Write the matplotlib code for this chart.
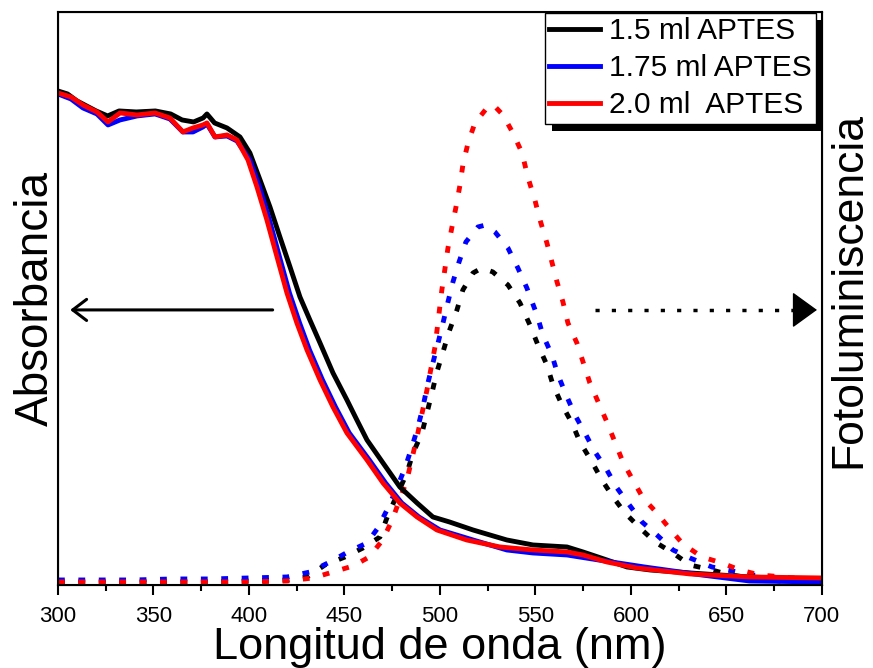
import matplotlib
matplotlib.use("Agg")
import matplotlib.pyplot as plt
from matplotlib.patches import Rectangle
from matplotlib.ticker import MultipleLocator

plt.rcParams["font.family"] = ["Liberation Sans", "DejaVu Sans"]

LABELS = ["1.5 ml APTES", "1.75 ml APTES", "2.0 ml  APTES"]
COLORS = ["black", "blue", "red"]

# absorbance (arbitrary units)
abs_15_x = [300, 305, 310, 315, 320, 326, 332, 341, 351, 359, 365, 371, 376, 378, 382, 388.5,
            395.3, 400.5, 405.8, 411, 416.2, 421.5, 426.7, 431.9, 437.2, 444, 451.3, 456.5,
            461.8, 470.2, 479, 488, 496.3, 505, 517.3, 535, 548.7, 566.5, 574.9, 587.4, 597.9,
            610, 631, 662, 700]
abs_15_y = [494, 491, 484, 479, 474, 469, 474, 473, 474, 471, 465, 463, 467, 471, 462, 457,
            448, 432, 405, 378, 348, 318, 288, 265, 242, 212, 185, 165, 145, 122, 98, 82, 68,
            63, 55, 45, 40, 38, 33, 25, 18, 15, 12, 8, 5]

abs_175_x = [300, 306.8, 313.1, 320.4, 326.2, 332.5, 341.4, 350.8, 358.6, 365.4, 370.7, 375.9,
             378, 382.2, 388.5, 393.7, 400.5, 405.5, 410.7, 416, 421.2, 426.5, 431.7, 438.5,
             445.3, 452.5, 463, 471.5, 480, 489, 500, 517.3, 535, 548.7, 566.5, 583, 607, 637,
             662, 700]
abs_175_y = [491, 486, 477, 471, 460, 465, 469, 471, 466, 453, 453, 458, 461, 448, 449, 444,
             425, 398, 365, 328, 292, 262, 235, 205, 178, 152, 125, 102, 82, 68, 55, 45, 35,
             32, 30, 25, 18, 10, 4, 3]

abs_20_x = [300, 306.8, 313.1, 320.4, 326.2, 332.5, 341.4, 350.8, 358.6, 365.4, 370.7, 375.9,
            378, 382.2, 388.5, 393.7, 399.5, 404.2, 409.4, 414.7, 419.9, 425.1, 430.4, 437.2,
            444, 451.3, 461.8, 470.2, 479, 488, 498.4, 514, 531.4, 548.7, 566.5, 574.9, 587.4,
            603, 631, 662, 700]
abs_20_y = [492, 488, 480, 473, 463, 472, 470, 472, 467, 453, 457, 460, 462, 448, 450, 445,
            425, 398, 365, 328, 292, 262, 235, 205, 178, 152, 125, 102, 82, 68, 55, 45, 38,
            35, 33, 30, 23, 17, 11, 8, 7]

# photoluminescence (arbitrary units)
pl_15_x = [300, 320, 340, 360, 380, 400, 420, 430.4, 439.8, 450.3, 459.7, 468.6, 472.8, 478,
           482.7, 485.9, 490.6, 493.2, 495.8, 498.4, 501.6, 504.7, 508.9, 512, 517.3, 522,
           527.7, 535.6, 541.9, 547.1, 551.3, 556, 559.2, 563.9, 569.1, 573.3, 579.6, 584.8,
           590.6, 596.9, 604.7, 612.6, 622, 630.9, 642.4, 651.8, 663.4, 673.8, 684.8, 695.3, 700]
pl_15_y = [3, 3, 3, 3, 3, 4, 5, 8, 20, 28, 37, 48, 70, 92, 112, 132, 152, 172, 192, 213, 233,
           253, 275, 295, 312, 317, 313, 300, 282, 260, 240, 220, 200, 180, 162, 143, 123, 105,
           88, 72, 57, 43, 32, 20, 15, 10, 7, 5, 2, 2, 2]

pl_175_x = [300, 320, 340, 360, 380, 400, 420, 432, 442.4, 451.8, 461.8, 467.5, 472.8, 477,
            481.7, 485.3, 488.5, 491.1, 493.7, 496.3, 499, 501.6, 504.2, 506.8, 510, 513.6,
            519.9, 524, 528.8, 535.6, 540.8, 545.5, 550.8, 553.9, 558.6, 561.8, 566.5, 570.7,
            575.9, 581.2, 587.4, 592.7, 598.4, 605.8, 613.6, 622, 630.9, 642.4, 652.9, 663.4,
            673.8, 684.8, 696.3, 700]
pl_175_y = [5, 5, 5, 6, 6, 7, 8, 13, 23, 33, 42, 57, 77, 95, 117, 138, 158, 178, 202, 222, 242,
            262, 283, 303, 323, 343, 358, 360, 353, 337, 317, 297, 270, 250, 230, 210, 188, 170,
            152, 133, 115, 97, 82, 63, 50, 35, 27, 18, 14, 10, 8, 6, 4, 4]

pl_20_x = [300, 320, 340, 360, 380, 400, 420, 433.5, 444, 454.5, 463, 470, 475, 482.7, 488,
           493.2, 497.4, 501, 504.2, 506.3, 508.4, 510.5, 512, 514.7, 518.3, 524.6, 528, 533,
           538.2, 543, 546, 549.7, 552.4, 556, 558.6, 561.3, 564.4, 567, 571.7, 578.5, 587.4,
           595.8, 601, 606.3, 613.6, 620.4, 627.2, 637.2, 647.6, 657, 667.5, 679.6, 697.4, 700]
pl_20_y = [3, 3, 3, 3, 3, 3, 4, 7, 13, 19, 28, 45, 65, 105, 148, 195, 238, 295, 337, 358, 378,
           400, 420, 442, 462, 477, 480, 470, 452, 432, 408, 385, 365, 342, 323, 303, 283, 262,
           242, 202, 163, 123, 105, 87, 72, 56, 41, 28, 22, 15, 10, 8, 5, 5]

abs_series = [(abs_15_x, abs_15_y), (abs_175_x, abs_175_y), (abs_20_x, abs_20_y)]
pl_series = [(pl_15_x, pl_15_y), (pl_175_x, pl_175_y), (pl_20_x, pl_20_y)]

fig = plt.figure(figsize=(8.73, 6.68), dpi=100)
ax = fig.add_axes([0.0664, 0.1243, 0.8751, 0.8578])

for (x, y), c in zip(pl_series, COLORS):
    ax.plot(x, y, color=c, lw=3.5, ls=(0, (1.4, 2.8)))

handles = []
for (x, y), c, lab in zip(abs_series, COLORS, LABELS):
    h, = ax.plot(x, y, color=c, lw=3.5, label=lab)
    handles.append(h)

ax.set_xlim(300, 700)
ax.set_ylim(0, 573)
ax.xaxis.set_major_locator(MultipleLocator(50))
ax.xaxis.set_minor_locator(MultipleLocator(25))
ax.tick_params(axis="x", which="major", direction="out", length=7, width=1.5,
               labelsize=16, pad=8, top=False)
ax.tick_params(axis="x", which="minor", direction="out", length=4, width=1.5, top=False)
ax.set_yticks([])
for s in ax.spines.values():
    s.set_linewidth(1.5)

ax.set_xlabel("Longitud de onda (nm)", fontsize=32.5, labelpad=0)
ax.set_ylabel("Absorbancia", fontsize=33, labelpad=0)

ax2 = ax.twinx()
ax2.set_ylim(0, 573)
ax2.set_yticks([])
ax2.set_ylabel("Fotoluminiscencia", fontsize=32, labelpad=5)
ax2.yaxis.label.set_y(0.515)

# arrows
ax.annotate("", xy=(0.016, 0.48), xytext=(0.281, 0.48), xycoords="axes fraction",
            arrowprops=dict(arrowstyle="->,head_length=0.5,head_width=0.38",
                            mutation_scale=20, color="black", lw=2.2,
                            shrinkA=0, shrinkB=0))
ax.plot([0.703, 0.962], [0.48, 0.48], transform=ax.transAxes, color="black",
        lw=2.5, ls=(0, (1.2, 3.5)))
ax.annotate("", xy=(0.9935, 0.48), xytext=(0.963, 0.48), xycoords="axes fraction",
            arrowprops=dict(arrowstyle="-|>,head_length=0.8,head_width=0.58",
                            mutation_scale=20, color="black", lw=1,
                            shrinkA=0, shrinkB=0))

leg = ax2.legend(handles=handles, labels=LABELS, loc="upper right",
                 bbox_to_anchor=(816 / 873, 1 - 13 / 668), bbox_transform=fig.transFigure,
                 fontsize=21.5, frameon=True, fancybox=False, framealpha=1,
                 borderpad=0.15, labelspacing=0.3, handlelength=1.7, handletextpad=0.3,
                 borderaxespad=0)
leg.get_frame().set_edgecolor("black")
leg.get_frame().set_facecolor("white")
leg.get_frame().set_linewidth(1)
leg.set_zorder(6)

fig.canvas.draw()
bb = leg.get_window_extent()
shadow = Rectangle((bb.x0 + 7, bb.y0 - 7), bb.width, bb.height, transform=None,
                   facecolor="black", edgecolor="none", zorder=5.5, clip_on=False)
ax2.add_patch(shadow)

fig.savefig("out.png", dpi=100)
